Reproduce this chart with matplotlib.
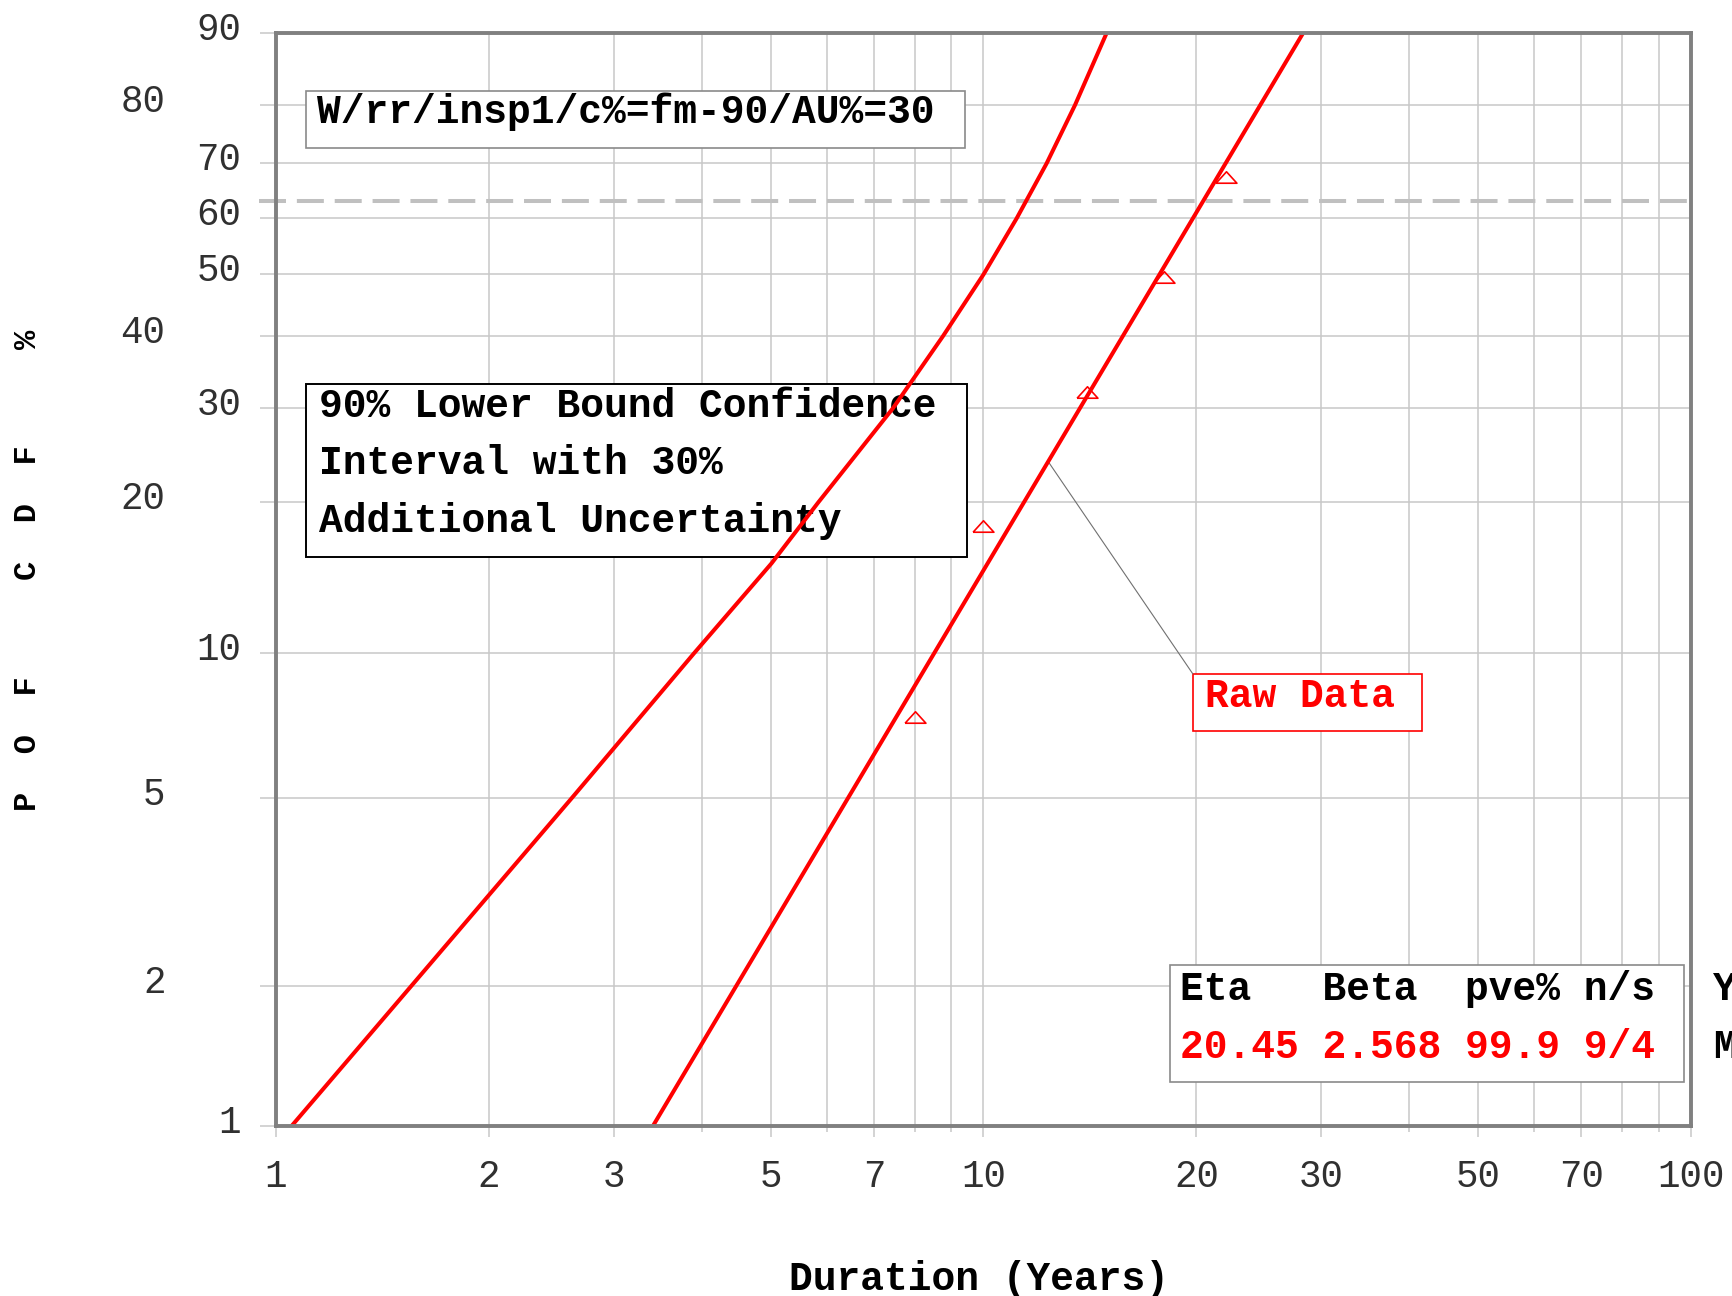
import numpy as np
import matplotlib
matplotlib.use("Agg")
import matplotlib.pyplot as plt
from matplotlib.patches import Rectangle
from matplotlib.transforms import ScaledTranslation

# ---------------- data ----------------
# Lower-bound curve (90% LB, AU 30%): F% vs duration
lb_cdf = [1, 2, 5, 10, 15.2, 20, 30, 40, 50, 60, 70, 80, 90]
lb_years = [1.052, 1.555, 2.618, 3.897, 5.017, 5.84, 7.45, 8.77, 10.0, 11.14, 12.28, 13.47, 14.93]

# Weibull fit line (eta 20.45, beta 2.568), end points
fit_cdf = [1, 90]
fit_years = [3.41, 28.3]

# Raw data points
raw_years = [8, 10, 14, 18, 22]
raw_cdf = [7.4, 18.0, 32.0, 49.5, 67.6]

leader_point = (12.35, 23.9)   # where the "Raw Data" leader touches the fit line
char_life_cdf = 63.2

y_major = [1, 10, 30, 50, 60, 70, 90]
y_minor = [2, 5, 20, 40, 80]
x_major = [1, 2, 3, 5, 7, 10, 20, 30, 50, 70, 100]
x_minor = [4, 6, 8, 9, 40, 60, 80, 90]

title_text = "W/rr/insp1/c%=fm-90/AU%=30"
note_lines = ["90% Lower Bound Confidence", "Interval with 30%", "Additional Uncertainty"]
stats_header = "Eta   Beta  pve% n/s"
stats_values = "20.45 2.568 99.9 9/4"

# ---------------- figure ----------------
MONO = "Liberation Mono"
W, H = 1733, 1296
fig = plt.figure(figsize=(W / 100, H / 100), dpi=100)
ax = fig.add_axes([276 / W, 1 - 1126 / H, 1415 / W, 1093 / H])


def fwd(p):
    p = np.clip(np.asarray(p, dtype=float), 1e-6, 99.999999)
    return np.log(-np.log(1 - p / 100.0))


def inv(w):
    w = np.asarray(w, dtype=float)
    return 100.0 * (1 - np.exp(-np.exp(w)))


ax.set_xscale("log")
ax.set_yscale("function", functions=(fwd, inv))
ax.set_xlim(1, 100)
ax.set_ylim(1, 90)

RED = "#ff0000"
GRID = "#c8c8c8"

ax.plot(lb_years, lb_cdf, color=RED, lw=2.9, zorder=6, solid_joinstyle="round")
ax.plot(fit_years, fit_cdf, color=RED, lw=2.9, zorder=6)
ax.plot(raw_years, raw_cdf, linestyle="none",
        marker=[(-1, -0.55), (1, -0.55), (0, 0.55), (-1, -0.55)],
        markersize=15, markerfacecolor="none", markeredgecolor=RED,
        markeredgewidth=1.2, zorder=6)

# characteristic-life dashed line
ax.axhline(char_life_cdf, xmin=-0.012, xmax=1, color="#c0c0c0", lw=2.9,
           linestyle=(0, (6.7, 2.7)), zorder=1, clip_on=False)

# ticks
ax.set_yticks(y_major)
ax.set_yticklabels([str(v) for v in y_major])
ax.set_yticks(y_minor, minor=True)
ax.set_yticklabels([str(v) for v in y_minor], minor=True)
ax.set_xticks(x_major)
ax.set_xticklabels([str(v) for v in x_major])
ax.set_xticks(x_minor, minor=True)
ax.set_xticklabels([], minor=True)

ax.tick_params(axis="y", which="major", length=11.5, width=1.1, color=GRID,
               pad=13.5, labelsize=27, labelcolor="#303030")
ax.tick_params(axis="y", which="minor", length=11.5, width=1.1, color=GRID,
               pad=68, labelsize=27, labelcolor="#303030")
ax.tick_params(axis="x", which="major", length=8, width=1.1, color=GRID,
               pad=16, labelsize=27, labelcolor="#303030")
ax.tick_params(axis="x", which="minor", length=4.3, width=1.1, color=GRID)
for lab in ax.get_yticklabels(which="both") + ax.get_xticklabels():
    lab.set_family(MONO)
off = ScaledTranslation(0, 0.07, fig.dpi_scale_trans)
for lab in ax.get_yticklabels(which="both"):
    lab.set_transform(lab.get_transform() + off)

ax.grid(which="both", color=GRID, lw=1.1)
ax.set_axisbelow(True)
for sp in ax.spines.values():
    sp.set_color("#808080")
    sp.set_linewidth(2.8)
    sp.set_zorder(7)

# ---------------- boxes and text ----------------
def box(x0, y0, x1, y1, ec, lw=1.2):
    ax.add_patch(Rectangle((x0, y1), x1 - x0, y0 - y1, transform=ax.transAxes,
                           facecolor="white", edgecolor=ec, lw=lw, zorder=3))

TXT = dict(family=MONO, fontweight="bold", fontsize=28.5, transform=ax.transAxes,
           ha="left", va="baseline", zorder=4)

box(0.0212, 0.947, 0.4869, 0.8948, "#8a8a8a")
ax.text(0.029, 0.918, title_text, color="black", **TXT)

box(0.0212, 0.6793, 0.4883, 0.5206, "black", lw=1.4)
for ln, yb in zip(note_lines, [0.649, 0.5965, 0.5438]):
    ax.text(0.0305, yb, ln, color="black", **TXT)

box(0.648, 0.4135, 0.810, 0.361, RED)
ax.text(0.6563, 0.3833, "Raw Data", color=RED, **TXT)
ax.annotate("", xy=leader_point, xycoords="data", xytext=(0.648, 0.4135),
            textcoords="axes fraction",
            arrowprops=dict(arrowstyle="-", color="#707070", lw=0.8,
                            shrinkA=0, shrinkB=0), zorder=4)

box(0.6318, 0.1473, 0.995, 0.0403, "#8a8a8a")
ax.text(0.6389, 0.1153, stats_header, color="black", **TXT)
ax.text(0.6389, 0.0626, stats_values, color=RED, **TXT)
# partially visible legend beyond the right edge (cut off in the original too)
ax.text(1.0155, 0.1153, "Y", color="black", clip_on=False, **TXT)
ax.text(1.0155, 0.0626, "M", color="black", clip_on=False, **TXT)

# axis titles
fig.text(978.7 / W, 0.013, "Duration (Years)", family=MONO, fontweight="bold",
         fontsize=28.5, ha="center", va="center")
fig.text(0.016, 0.560, "P  O  F     C  D  F     %", family=MONO,
         fontweight="bold", fontsize=23, rotation=90, ha="center", va="center")

fig.savefig("out.png", dpi=100, facecolor="white")
